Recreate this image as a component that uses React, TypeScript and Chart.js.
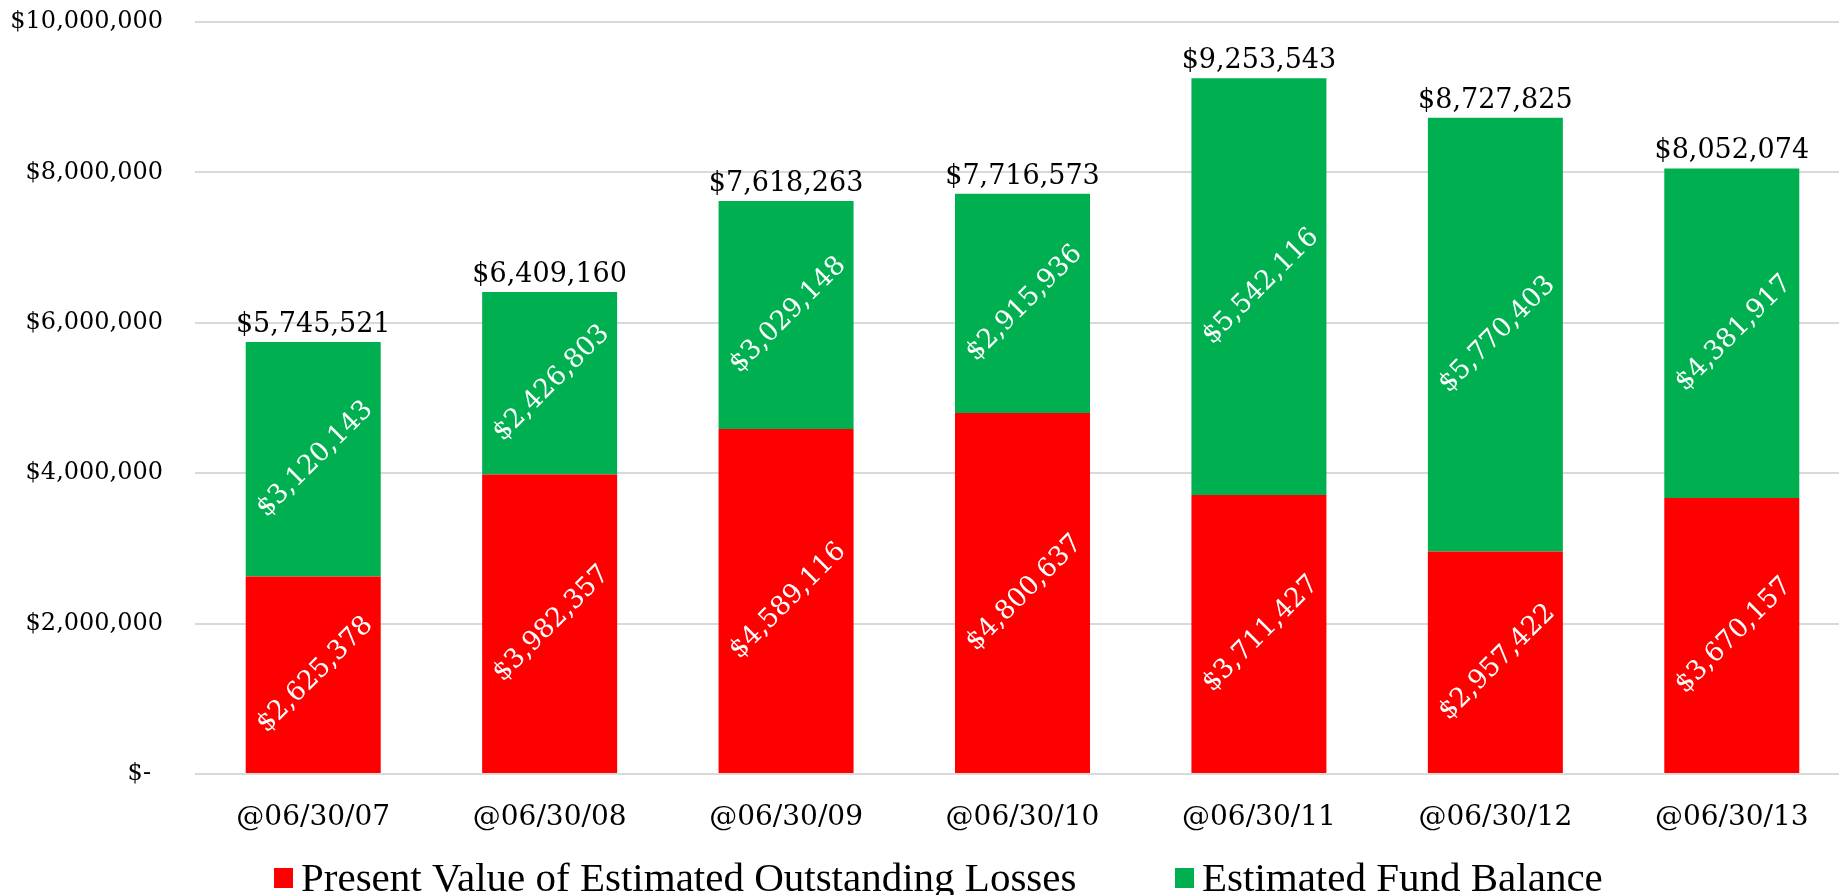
import React, { useEffect, useRef } from "react";
import { Chart, registerables } from "chart.js";

Chart.register(...registerables);

const categories = ["@06/30/07", "@06/30/08", "@06/30/09", "@06/30/10", "@06/30/11", "@06/30/12", "@06/30/13"];
const lossesValues = [2625378, 3982357, 4589116, 4800637, 3711427, 2957422, 3670157];
const fundValues = [3120143, 2426803, 3029148, 2915936, 5542116, 5770403, 4381917];
const totalValues = [5745521, 6409160, 7618263, 7716573, 9253543, 8727825, 8052074];
const yTicks = [0, 2000000, 4000000, 6000000, 8000000, 10000000];
const seriesNames = ["Present Value of Estimated Outstanding Losses", "Estimated Fund Balance"];
const seriesColors = ["#FF0000", "#00B050"];

const fmt = (v: number) => "$" + v.toLocaleString("en-US");
const NUM_FONT = "'DejaVu Serif', serif";
const LEGEND_FONT = "'Liberation Serif', serif";

const labelPlugin = {
  id: "valueLabels",
  afterDatasetsDraw(chart: any) {
    const ctx = chart.ctx;
    ctx.save();
    chart.data.datasets.forEach((ds: any, di: number) => {
      const meta = chart.getDatasetMeta(di);
      meta.data.forEach((el: any, i: number) => {
        const cy = (el.y + el.base) / 2;
        ctx.save();
        ctx.translate(el.x + 2, cy);
        ctx.rotate(-Math.PI / 4);
        ctx.fillStyle = "#FFFFFF";
        ctx.font = "26.5px " + NUM_FONT;
        ctx.textAlign = "center";
        ctx.textBaseline = "middle";
        ctx.fillText(fmt(ds.data[i]), 0, 0);
        ctx.restore();
      });
    });
    const topMeta = chart.getDatasetMeta(chart.data.datasets.length - 1);
    topMeta.data.forEach((el: any, i: number) => {
      ctx.fillStyle = "#000000";
      ctx.font = "27px " + NUM_FONT;
      ctx.textAlign = "center";
      ctx.textBaseline = "middle";
      ctx.fillText(fmt(totalValues[i]), el.x, el.y - 17);
    });
    ctx.restore();
  },
};

const legendPlugin = {
  id: "customLegend",
  afterDraw(chart: any) {
    const ctx = chart.ctx;
    ctx.save();
    const starts = [274, 1175];
    const cy = 878;
    seriesNames.forEach((name, i) => {
      ctx.fillStyle = seriesColors[i];
      ctx.fillRect(starts[i], cy - 10, 19, 20);
      ctx.fillStyle = "#000000";
      ctx.font = "41px " + LEGEND_FONT;
      ctx.textAlign = "left";
      ctx.textBaseline = "middle";
      ctx.fillText(name, starts[i] + 27, cy + 2);
    });
    ctx.restore();
  },
};

export default function App() {
  const ref = useRef<HTMLCanvasElement | null>(null);
  useEffect(() => {
    document.body.style.margin = "0";
    document.body.style.overflow = "hidden";
    const canvas = ref.current!;
    const chart = new Chart(canvas, {
      type: "bar",
      data: {
        labels: categories,
        datasets: [
          { label: seriesNames[0], data: lossesValues, backgroundColor: seriesColors[0], barPercentage: 0.571, categoryPercentage: 1 },
          { label: seriesNames[1], data: fundValues, backgroundColor: seriesColors[1], barPercentage: 0.571, categoryPercentage: 1 },
        ],
      },
      options: {
        responsive: false,
        animation: false,
        layout: { padding: { left: 0, right: 0, top: 22, bottom: 0 } },
        plugins: { legend: { display: false }, tooltip: { enabled: false } },
        scales: {
          x: {
            stacked: true,
            grid: { display: false, drawTicks: false },
            border: { display: false },
            ticks: { color: "#000", font: { family: NUM_FONT, size: 28 }, padding: 27, maxRotation: 0 },
            afterFit: (s: any) => { s.height = 121; s.paddingLeft = 0; s.paddingRight = 0; },
          },
          y: {
            stacked: true,
            min: 0,
            max: 10000000,
            afterBuildTicks: (s: any) => { s.ticks = yTicks.map((v) => ({ value: v })); },
            grid: { color: "#D9D9D9", lineWidth: 2, drawTicks: false },
            border: { display: false },
            ticks: {
              color: "#000",
              font: { family: NUM_FONT, size: 24 },
              padding: 32,
              callback: (v: any) => (Number(v) === 0 ? "$-\u2002" : fmt(Number(v))),
            },
            afterFit: (s: any) => { s.width = 195; s.paddingTop = 0; s.paddingBottom = 0; },
          },
        },
      },
      plugins: [labelPlugin, legendPlugin],
    });
    return () => chart.destroy();
  }, []);
  return (
    <div style={{ width: 1839, height: 895, overflow: "hidden" }}>
      <canvas ref={ref} width={1850} height={895} style={{ display: "block" }} />
    </div>
  );
}
